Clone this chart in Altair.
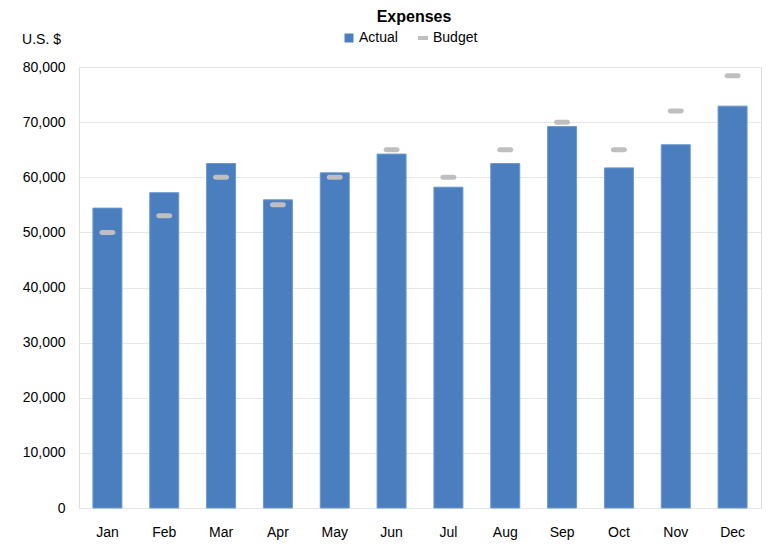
import altair as alt
import pandas as pd

months = ["Jan", "Feb", "Mar", "Apr", "May", "Jun", "Jul", "Aug", "Sep", "Oct", "Nov", "Dec"]
actual = [54400, 57200, 62500, 55900, 60800, 64200, 58200, 62500, 69200, 61700, 65900, 72900]
budget = [50000, 53000, 60000, 55000, 60000, 65000, 60000, 65000, 70000, 65000, 72000, 78400]

df_a = pd.DataFrame({"month": months, "value": actual, "series": "Actual"})
df_b = pd.DataFrame({"month": months, "value": budget, "series": "Budget"})

FONT = "Liberation Sans"
BLUE = "#4A7EBF"
GRAY = "#BFBFBF"

x_enc = alt.X("month:N", sort=months, title=None,
              scale=alt.Scale(paddingInner=0.49, paddingOuter=0.245),
              axis=alt.Axis(labelAngle=0, ticks=False, domain=False, labelPadding=17,
                            labelFontSize=14, labelFont=FONT, labelColor="#000000"))
y_axis = alt.Axis(values=list(range(0, 80001, 10000)), format=",.0f", ticks=False,
                  domain=False, labelPadding=14, labelFontSize=14, labelFont=FONT,
                  labelColor="#000000", gridColor="#E6E6E6", gridWidth=1,
                  titleAngle=0, titleX=-38, titleY=-28, titleAlign="center",
                  titleBaseline="middle", titleFontSize=14, titleFontWeight="normal",
                  titleFont=FONT, titleColor="#000000")
y_enc = alt.Y("value:Q", title="U.S. $", scale=alt.Scale(domain=[0, 80000], nice=False), axis=y_axis)

legend_a = alt.Legend(title=None, orient="none", direction="horizontal", legendX=263, legendY=-36,
                      labelFontSize=14, labelFont=FONT, labelColor="#000000",
                      symbolType="square", symbolSize=81, symbolStrokeWidth=0,
                      symbolOpacity=1, labelOffset=3, padding=0)
legend_b = alt.Legend(title=None, orient="none", direction="horizontal", legendX=337, legendY=-36,
                      labelFontSize=14, labelFont=FONT, labelColor="#000000",
                      symbolType="M-1,-0.4H1V0.4H-1Z", symbolSize=100, symbolStrokeWidth=0,
                      symbolOpacity=1, labelOffset=3, padding=0)

bars = alt.Chart(df_a).mark_bar(stroke="#6C98CC", strokeWidth=1).encode(
    x=x_enc, y=y_enc,
    color=alt.Color("series:N", scale=alt.Scale(domain=["Actual"], range=[BLUE]), legend=legend_a))

ticks = alt.Chart(df_b).mark_tick(orient="horizontal", size=16, thickness=5,
                                  cornerRadius=2.5, opacity=1).encode(
    x=x_enc, y=y_enc,
    fill=alt.Fill("series:N", scale=alt.Scale(domain=["Budget"], range=[GRAY]), legend=legend_b))

chart = alt.layer(bars, ticks).resolve_scale(color="independent", fill="independent").properties(
    width=682, height=441,
    title=alt.TitleParams("Expenses", fontSize=16, fontWeight="bold", font=FONT,
                          color="#000000", anchor="middle", dx=-6, offset=6),
    autosize=alt.AutoSizeParams(type="none"),
    padding={"left": 71, "top": 59, "right": 9, "bottom": 38},
).configure_view(stroke="#D9D9D9", strokeWidth=2).configure(background="#FFFFFF")

chart.save("out.html", embed_options={"renderer": "svg", "actions": False})
